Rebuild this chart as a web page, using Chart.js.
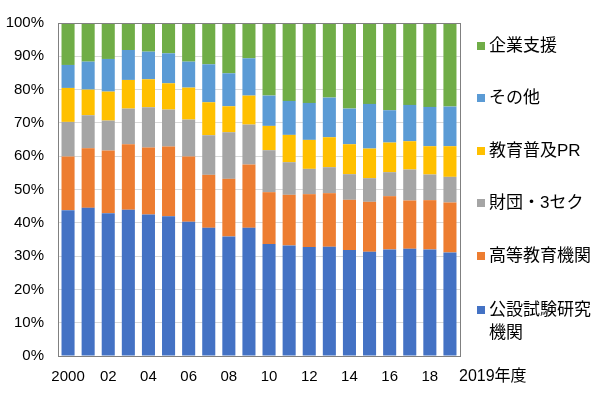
<!DOCTYPE html>
<html>
<head>
<meta charset="utf-8">
<script src="https://cdn.jsdelivr.net/npm/chart.js@4.4.1/dist/chart.umd.min.js"></script>
<style>
  body { margin: 0; background: #fff; }
  #wrap { position: relative; width: 600px; height: 399px; }
  #legend { position: absolute; left: 0; top: 0; font-family: "Liberation Sans", "Noto Sans CJK JP", sans-serif; font-size: 17px; color: #000; }
  .item { position: absolute; left: 477px; white-space: nowrap; line-height: 23px; }
  .box { position: absolute; left: 0; top: 8px; width: 8px; height: 8px; }
  .txt { position: absolute; left: 12px; top: 0; }
</style>
</head>
<body>
<div id="wrap">
  <canvas id="myChart" width="600" height="399"></canvas>
  <div id="legend"></div>
</div>
<script>
var years = ['2000', '2001', '2002', '2003', '2004', '2005', '2006', '2007', '2008', '2009',
             '2010', '2011', '2012', '2013', '2014', '2015', '2016', '2017', '2018', '2019'];
var tickLabels = ['2000', '', '02', '', '04', '', '06', '', '08', '',
                  '10', '', '12', '', '14', '', '16', '', '18', ''];
var lastLabel = '2019年度';
var yTicks = ['0%', '10%', '20%', '30%', '40%', '50%', '60%', '70%', '80%', '90%', '100%'];

// share of each group (%)
var koseshi = [43.8, 44.5, 42.9, 43.9, 42.5, 42.0, 40.3, 38.5, 35.9, 38.5, 33.6, 33.2, 32.7, 32.8, 31.8, 31.3, 32.0, 32.2, 32.0, 31.1];
var kotoKyoiku = [16.1, 17.9, 18.8, 19.7, 20.1, 20.9, 19.6, 15.9, 17.3, 19.0, 15.6, 15.2, 15.9, 16.1, 15.1, 15.0, 16.0, 14.5, 14.8, 15.0];
var zaidan = [10.4, 9.9, 9.0, 10.7, 12.1, 11.1, 11.1, 11.9, 14.0, 12.0, 12.6, 9.8, 7.6, 7.8, 7.7, 7.1, 7.2, 9.3, 7.7, 7.7];
var kyoikuPR = [10.2, 7.7, 8.7, 8.6, 8.4, 7.9, 9.6, 9.9, 7.8, 8.7, 7.3, 8.2, 8.7, 9.0, 9.0, 8.9, 8.9, 8.5, 8.5, 9.2];
var sonota = [6.9, 8.4, 9.8, 9.0, 8.3, 9.0, 7.8, 11.4, 9.9, 11.2, 9.1, 10.2, 11.1, 11.9, 10.7, 13.4, 9.7, 10.9, 11.8, 11.9];
var kigyoShien = [12.6, 11.6, 10.8, 8.1, 8.6, 9.1, 11.6, 12.4, 15.1, 10.6, 21.8, 23.4, 24.0, 22.4, 25.7, 24.3, 26.2, 24.6, 25.2, 25.1];

var seriesNames = ['公設試験研究機関', '高等教育機関', '財団・3セク', '教育普及PR', 'その他', '企業支援'];
var seriesData = [koseshi, kotoKyoiku, zaidan, kyoikuPR, sonota, kigyoShien];
var seriesColors = ['#4472C4', '#ED7D31', '#A5A5A5', '#FFC000', '#5B9BD5', '#70AD47'];

var font = '"Liberation Sans", "Noto Sans CJK JP", sans-serif';

var datasets = seriesNames.map(function (name, i) {
    return {
        label: name,
        data: seriesData[i],
        backgroundColor: seriesColors[i],
        barPercentage: 0.65,
        categoryPercentage: 1.0
    };
});

/* frame round the plot + the last year label */
var extras = {
    id: 'extras',
    afterDraw: function (chart) {
        var c = chart.ctx, a = chart.chartArea;
        c.save();
        c.strokeStyle = '#808080';
        c.lineWidth = 1;
        c.strokeRect(Math.round(a.left) + 0.5, Math.round(a.top) + 0.5, Math.round(a.right - a.left), Math.round(a.bottom - a.top));
        c.fillStyle = '#000';
        c.font = '16px ' + font;
        c.textAlign = 'left';
        c.textBaseline = 'middle';
        c.fillText(lastLabel, a.right - 1, 377);
        c.restore();
    }
};

var ctx = document.getElementById('myChart').getContext('2d');
var myChart = new Chart(ctx, {
    type: 'bar',
    data: { labels: years, datasets: datasets },
    plugins: [extras],
    options: {
        responsive: false,
        animation: false,
        layout: { padding: { top: 20, right: 140, left: 0, bottom: 0 } },
        plugins: { legend: { display: false }, tooltip: { enabled: false } },
        scales: {
            x: {
                stacked: true,
                grid: { display: false, drawTicks: false },
                border: { color: '#808080' },
                ticks: {
                    autoSkip: false,
                    maxRotation: 0,
                    padding: 12,
                    color: '#000',
                    font: { family: font, size: 15 },
                    callback: function (v, i) { return tickLabels[i]; }
                },
                afterFit: function (s) { s.height = 43; }
            },
            y: {
                stacked: true,
                min: 0,
                max: 100,
                grid: { color: '#D9D9D9', drawTicks: false },
                border: { color: '#808080' },
                ticks: {
                    stepSize: 10,
                    padding: 14,
                    color: '#000',
                    font: { family: font, size: 15 },
                    callback: function (v) { return yTicks[Math.round(v / 10)]; }
                },
                afterFit: function (s) { s.width = 58; }
            }
        }
    }
});

/* legend on the right, top item = top of the stack */
var legendTops = [33.5, 85.5, 138.5, 190.5, 243.5, 297.5];
var legend = document.getElementById('legend');
for (var i = seriesNames.length - 1; i >= 0; i--) {
    var item = document.createElement('div');
    item.className = 'item';
    item.style.top = legendTops[seriesNames.length - 1 - i] + 'px';
    var name = seriesNames[i] === '公設試験研究機関' ? '公設試験研究<br>機関' : seriesNames[i];
    item.innerHTML = '<span class="box" style="background:' + seriesColors[i] + '"></span><span class="txt">' + name + '</span>';
    legend.appendChild(item);
}
</script>
</body>
</html>
